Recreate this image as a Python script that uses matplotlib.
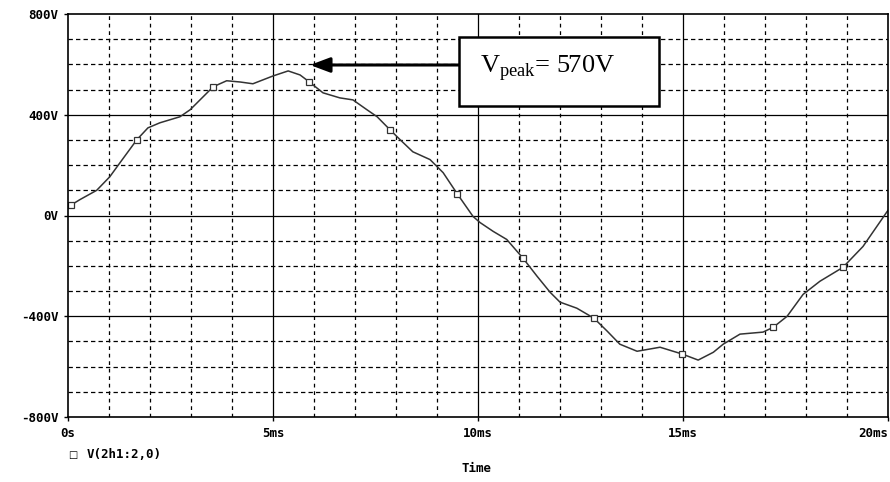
import matplotlib
matplotlib.use("Agg")
import matplotlib.pyplot as plt
from matplotlib.ticker import FixedLocator

plt.rcParams["mathtext.fontset"] = "custom"
plt.rcParams["mathtext.rm"] = "Liberation Serif"

# Data (time in ms, voltage in V)
time_ms = [0.0, 0.07, 0.29, 0.7, 1.02, 1.27, 1.68, 1.95, 2.24, 2.73, 2.98, 3.54, 3.87,
           4.2, 4.51, 5.0, 5.37, 5.66, 5.88, 6.22, 6.63, 6.95, 7.29, 7.54, 7.85, 8.1,
           8.41, 8.83, 9.15, 9.49, 9.88, 10.05, 10.37, 10.7, 11.1, 11.44, 11.76, 12.0,
           12.41, 12.83, 13.15, 13.46, 13.88, 14.44, 14.98, 15.37, 15.74, 15.98, 16.39,
           16.95, 17.2, 17.54, 17.93, 18.34, 18.9, 19.39, 19.98, 20.0]
voltage = [28, 41, 63, 100, 154, 210, 301, 348, 368, 392, 420, 511, 535,
           530, 523, 554, 574, 558, 531, 487, 467, 459, 420, 392, 341, 301,
           253, 222, 170, 87, -4, -28, -63, -95, -170, -241, -305, -344,
           -368, -408, -459, -511, -539, -523, -550, -574, -543, -511, -471,
           -463, -444, -400, -313, -261, -206, -123, 16, 20]
marker_times = [0.07, 1.68, 3.54, 5.88, 7.85, 9.49, 11.1, 12.83, 14.98, 17.2, 18.9]

x_major = [0, 5, 10, 15, 20]
x_labels = ["0s", "5ms", "10ms", "15ms", "20ms"]
y_major = [-800, -400, 0, 400, 800]
y_labels = ["-800V", "-400V", "0V", "400V", "800V"]
series_label = "V(2h1:2,0)"
annotation_text = r"V$_{\mathrm{peak}}$= 570V"

fig = plt.figure(figsize=(8.9, 4.82), dpi=100)
ax = fig.add_axes([68/890, 1-417/482, (888-68)/890, (417-14)/482])
ax.set_xlim(0, 20)
ax.set_ylim(-800, 800)

# grid
for xv in range(1, 20):
    if xv % 5:
        ax.axvline(xv, color="black", lw=0.9, ls=(0, (3, 3)), zorder=1)
    else:
        ax.axvline(xv, color="black", lw=0.9, zorder=1)
for yv in range(-700, 800, 100):
    if yv % 400:
        ax.axhline(yv, color="black", lw=0.9, ls=(0, (3.5, 2.5)), zorder=1)
    else:
        ax.axhline(yv, color="black", lw=0.9, zorder=1)

mark_idx = [time_ms.index(t) for t in marker_times]
ax.plot(time_ms, voltage, color="#333333", lw=1.1, zorder=3,
        marker="s", markevery=mark_idx, markersize=4.5,
        markerfacecolor="white", markeredgecolor="#333333", markeredgewidth=0.9,
        solid_joinstyle="round")

mono = dict(family="DejaVu Sans Mono", weight="bold", size=9)
ax.xaxis.set_major_locator(FixedLocator(x_major))
ax.set_xticklabels(x_labels, **mono)
ax.yaxis.set_major_locator(FixedLocator(y_major))
ax.set_yticklabels(y_labels, **mono)
ax.tick_params(axis="both", which="major", direction="out", length=3, width=1, pad=4)
ax.get_xticklabels()[-1].set_horizontalalignment("right")
for s in ax.spines.values():
    s.set_linewidth(1.2)
    s.set_zorder(4)

# legend-like label and axis title
fig.text(73/890, 1-455/482, "\u25a1", fontsize=7, family="DejaVu Sans", ha="center", va="center")
fig.text(87/890, 1-455/482, series_label, ha="left", va="center", **mono)
fig.text(476/890, 1-468/482, "Time", ha="center", va="center", **mono)

# annotation box + arrow
ax.annotate("", xy=(310, 482-65), xycoords="figure pixels",
            xytext=(459, 482-65), textcoords="figure pixels",
            arrowprops=dict(arrowstyle="-|>,head_length=1.2,head_width=0.45",
                            lw=2.2, color="black", shrinkA=0, shrinkB=0))
box = plt.Rectangle((459/890, 1-106/482), 200/890, 69/482, transform=fig.transFigure,
                    facecolor="white", edgecolor="black", lw=1.8, zorder=5)
fig.add_artist(box)
fig.text(480/890, 1-68/482, annotation_text, ha="left", va="center",
         family="Liberation Serif", size=19, zorder=6)

fig.savefig("out.png", dpi=100)
